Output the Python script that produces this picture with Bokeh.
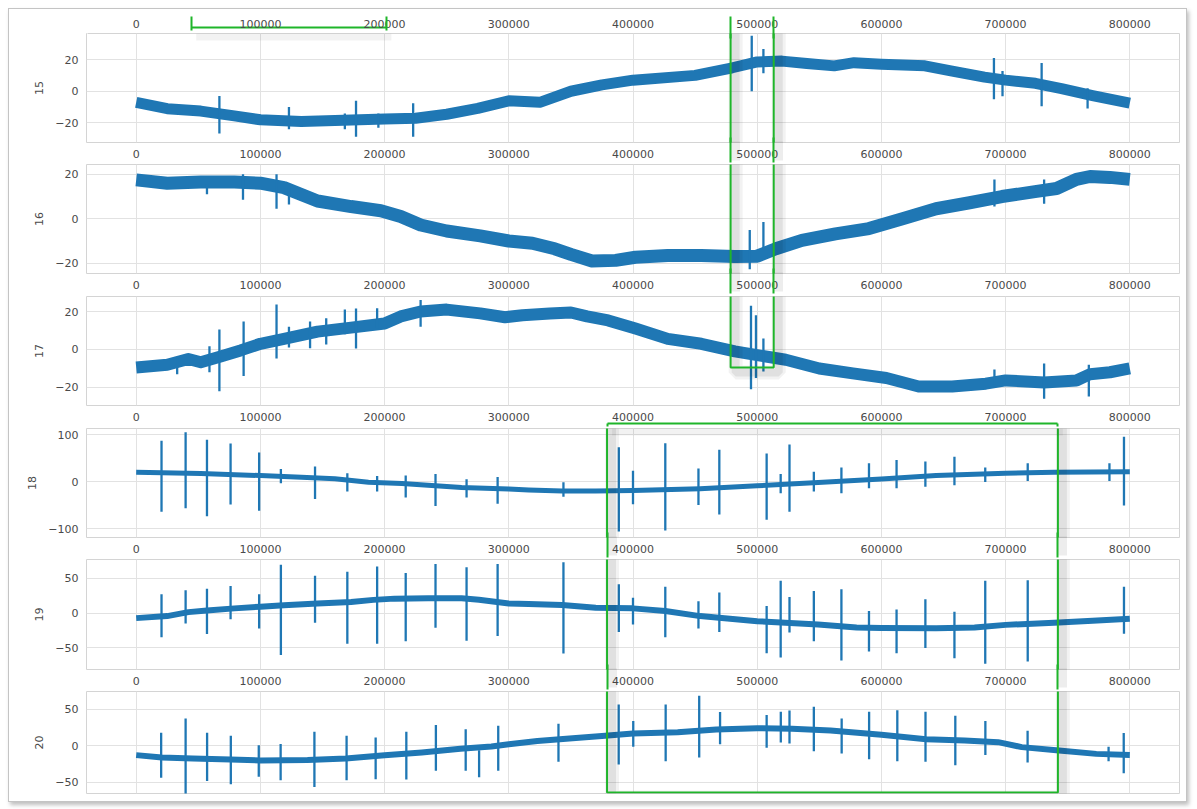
from bokeh.plotting import figure
from bokeh.models import FixedTicker, Range1d, BoxAnnotation, LinearAxis
from bokeh.layouts import column
from bokeh.embed import file_html
from bokeh.resources import INLINE

# ---------------- data ----------------
x_ticks = [0, 100000, 200000, 300000, 400000, 500000, 600000, 700000, 800000]
x_tick_labels = ["0", "100000", "200000", "300000", "400000", "500000", "600000", "700000", "800000"]

channel_names = ["15", "16", "17", "18", "19", "20"]

# channel 15
x15 = [0, 25000, 52000, 79000, 100000, 133000, 160000, 200000, 225000, 250000, 275000, 300000,
       325000, 350000, 375000, 400000, 450000, 480000, 500000, 520000, 540000, 562000, 578000,
       600000, 635000, 657000, 683000, 700000, 724000, 745000, 770000, 800000]
y15 = [-7, -11, -12.5, -15.5, -18, -19, -18.5, -17.5, -17, -14.5, -10.8, -6, -7, 0, 4, 7, 10,
       14.8, 18.5, 19, 17.5, 16, 18, 17, 16, 12.7, 8.9, 7, 5, 1.7, -2.7, -7.5]
sp15_x = [67000, 123000, 168000, 177000, 195000, 223000, 495600, 505000, 690600, 697500, 729000, 766000]
sp15_top = [-3, -10, -14, -6, -14, -7.5, 35, 26.7, 21, 12.7, 17.8, 1.9]
sp15_bot = [-26.6, -24, -24, -28.6, -23, -28.6, 0, 11.4, -5, -3.2, -9.5, -10.8]

# channel 16
x16 = [0, 25000, 52000, 79000, 100000, 119000, 146000, 173000, 197000, 213000, 229000, 250000,
       277000, 300000, 319000, 337000, 350000, 367000, 386000, 402000, 428000, 455000, 482000,
       500000, 515000, 536000, 563000, 590000, 617000, 644000, 671000, 697000, 725000, 741000,
       757000, 768000, 784000, 800000]
y16 = [17.5, 16, 16.5, 16.5, 16, 14, 8, 5.5, 3.6, 1, -2.8, -5.5, -7.7, -10, -11, -13.5, -16, -19,
       -18.7, -17.3, -16.5, -16.5, -17, -16.8, -13.5, -9.7, -6.8, -4.4, 0, 4.5, 7.2, 10, 12.3,
       13.6, 17.7, 19, 18.6, 17.7]
sp16_x = [57000, 86000, 113000, 123000, 494000, 505000, 691000, 731000]
sp16_top = [15.5, 20, 20, 13.8, -5, -1.4, 17.7, 17.7]
sp16_bot = [11, 8.6, 4.5, 6.4, -22.7, -13.6, 5.5, 6.8]

# channel 17
x17 = [0, 25000, 42000, 52000, 68000, 84000, 100000, 119000, 146000, 173000, 200000, 213000,
       229000, 250000, 277000, 297000, 311000, 333000, 350000, 363000, 380000, 402000, 428000,
       455000, 482000, 500000, 523000, 550000, 577000, 604000, 630000, 657000, 684000, 700000,
       731000, 757000, 768000, 784000, 800000]
y17 = [-9.5, -8, -5, -6.7, -3.7, -0.5, 3, 5.6, 9.4, 11.5, 13.7, 17.4, 20, 21, 19, 17, 18, 19,
       19.5, 17.4, 15.3, 11, 5.6, 3, -1, -3, -5.4, -10, -12.6, -15, -19.5, -19.5, -18, -16.3,
       -17.4, -16.3, -13, -12, -10]
sp17_x = [33000, 59000, 67000, 86500, 113000, 123000, 140000, 153000, 168000, 177000, 194000,
          229000, 495000, 499000, 505000, 691000, 731000, 767000]
sp17_top = [-4.6, 1.7, 10.5, 14.7, 23.7, 12, 14.7, 16.5, 21, 21.6, 21.7, 26, 23, 18, 5.8,
            -10.5, -7.4, -8]
sp17_bot = [-13, -12, -22, -14, -4.7, 1, 0.7, 2.6, 8, 0.5, 11.2, 12, -21, -15, -11.6,
            -18.4, -26, -24.7]

# channel 18
x18 = [0, 52000, 100000, 133000, 160000, 187000, 214000, 235000, 262000, 300000, 316000,
       343000, 370000, 400000, 454000, 500000, 549000, 600000, 644000, 700000, 739000, 800000]
y18 = [20, 17, 12.8, 9, 6, -1.5, -4, -7.8, -12.8, -16, -18, -19.8, -20, -19, -15, -9, -2,
       5.6, 12.8, 17.7, 20, 21]
sp18_x = [20400, 39800, 57000, 76000, 99000, 116500, 144000, 170000, 194000, 217000, 241000,
          266000, 291000, 344000, 388600, 400000, 426000, 452700, 469500, 507600, 518900,
          526000, 545600, 567800, 590000, 612200, 635400, 658800, 683600, 717800, 783600, 795300]
sp18_top = [87, 105, 89, 81, 62, 27, 32, 18, 12, 12.8, 16, 5, 10, -1.4, 73, 23, 81.6, 28, 68,
            60, 16, 79, 21, 30, 39, 46, 43, 53, 30, 39, 39, 95.7]
sp18_bot = [-64, -57, -74, -49, -62, -3.5, -37, -21, -21, -34, -52, -34, -47, -32, -106, -48,
            -104, -50, -70, -81, -25, -64, -21, -25, -14, -14, -11, -8, -1, 1.4, 1.4, -51]

# channel 19
x19 = [0, 25000, 42000, 57000, 79000, 100000, 119000, 146000, 173000, 191000, 208000, 235000,
       262000, 276000, 300000, 316000, 343000, 370000, 400000, 426000, 454000, 500000, 549000,
       580000, 600000, 644000, 675000, 700000, 739000, 770000, 800000]
y19 = [-7.2, -4.3, 1.4, 3.9, 6.8, 9.3, 11.3, 13.7, 16, 19, 20.8, 21.3, 21.3, 19.2, 13.9, 13,
       11.6, 7.7, 6.8, 3, -4.3, -11.6, -16.4, -20.8, -21.3, -21.7, -20.8, -16.9, -14, -11, -8.2]
sp19_x = [20400, 39800, 57000, 76000, 99000, 116500, 144000, 170000, 194000, 217000, 241000,
          266000, 291000, 344000, 388600, 400000, 426000, 452700, 469500, 507600, 518900,
          526000, 545600, 567800, 590000, 612200, 635400, 658800, 683600, 717800, 795300]
sp19_top = [27, 32.8, 35, 39, 27, 69.6, 53.6, 59.4, 67, 57.5, 70.5, 65.7, 70.5, 73, 41.5, 22,
            38, 17, 29.5, 10.1, 46.4, 23.2, 31.9, 34.3, 3, 5.3, 19.8, 2, 46.4, 47.3, 37.7]
sp19_bot = [-34.8, -15, -30, -9, -22, -60, -14, -44, -44, -40.6, -21.2, -39.6, -33, -58, -27,
            -16.4, -34.8, -22, -27, -57.5, -63.8, -28, -40.6, -68, -55, -57.5, -50.2, -64.7,
            -72.9, -69.6, -29.5]

# channel 20
x20 = [0, 20700, 45600, 76000, 100000, 138000, 168800, 200000, 230000, 261000, 286000, 300000,
       323000, 354000, 375000, 400000, 436000, 467000, 500000, 528000, 559000, 600000, 636000,
       667000, 694000, 713000, 743000, 773000, 800000]
y20 = [-12.7, -16, -17.3, -18.6, -20, -19.5, -17.3, -13, -9, -4, -1, 2, 6.5, 10.5, 13.5, 16.8,
       18.6, 22.3, 24, 23.2, 20.9, 15, 9, 7.3, 5, -1.8, -6.4, -11, -12.4]
sp20_x = [20100, 39800, 57100, 76200, 98700, 116300, 143500, 169400, 192800, 217500, 241300,
          265300, 276100, 291500, 340000, 388500, 400200, 426300, 453300, 470100, 507600,
          519000, 526000, 545600, 568000, 590100, 612800, 635500, 659500, 683700, 717700,
          782900, 795100]
sp20_top = [17.7, 37.3, 17.7, 13.6, 0.9, 2.3, 19.1, 13.6, 11.4, 19.1, 28.2, 22.7, -6, 27.3,
            30, 56.4, 33.8, 56.4, 68.2, 46, 42, 46.4, 48, 53.2, 37.3, 46.4, 48.6, 46.4, 40.9,
            33.8, 20.5, -1.4, 17.3]
sp20_bot = [-43.7, -66, -48, -52.4, -42.3, -47, -56, -47, -45.5, -46, -34, -34, -43, -34,
            -21.8, -25.5, -1.4, -21, -16, 2, -2.7, 4.4, 3, -7.3, -10.5, -18.2, -21, -21.8,
            -26.4, -12.7, -22.7, -21, -37.3]

y_ticks_15_17 = [-20, 0, 20]
y_ticks_18 = [-100, 0, 100]
y_ticks_19_20 = [-50, 0, 50]

# ---------------- style / layout ----------------
BLUE = "#1f77b4"
GREEN = "#1fb52a"
GRID = "#e2e2e2"
SPINE = "#d4d4d4"
TXT = "#4a4a4a"
FONT = "DejaVu Sans"
FIG_W = 1177
BL, BR = 77, 7
X_RANGE = (-40000, 840000)
X_UPP = (X_RANGE[1] - X_RANGE[0]) / (FIG_W - BL - BR)
SH_DX = 5 * X_UPP   # shadow offset (5 px) in data units


def fmt(v):
    return str(v).replace("-", "\u2212")


def style_xaxis(ax):
    ax.ticker = FixedTicker(ticks=x_ticks)
    ax.major_label_overrides = {t: l for t, l in zip(x_ticks, x_tick_labels)}
    ax.major_label_text_font = FONT
    ax.major_label_text_font_size = "11px"
    ax.major_label_text_color = TXT
    ax.major_tick_line_color = None
    ax.minor_tick_line_color = None
    ax.axis_line_color = None
    ax.major_tick_out = 0
    ax.major_tick_in = 0


def make_panel(name, xs, ys, sx, stop, sbot, yticks, yr, height, top_b, bottom_b, band_w,
               below=True):
    p = figure(width=FIG_W, height=height, output_backend="svg", toolbar_location=None,
               x_range=Range1d(*X_RANGE), y_range=Range1d(*yr),
               min_border_left=BL, min_border_right=BR,
               min_border_top=top_b, min_border_bottom=bottom_b,
               x_axis_location="below" if below else None)
    p.background_fill_color = "white"
    p.border_fill_color = "white"
    p.outline_line_color = SPINE
    p.outline_line_width = 1

    if below:
        style_xaxis(p.xaxis[0])
        p.xaxis[0].major_label_standoff = 7
    p.xgrid.ticker = FixedTicker(ticks=x_ticks)
    p.xgrid.grid_line_color = GRID
    p.ygrid.grid_line_color = GRID

    yax = p.yaxis[0]
    yax.ticker = FixedTicker(ticks=yticks)
    yax.major_label_overrides = {t: fmt(t) for t in yticks}
    yax.major_label_text_font = FONT
    yax.major_label_text_font_size = "11px"
    yax.major_label_text_color = TXT
    yax.major_tick_line_color = None
    yax.minor_tick_line_color = None
    yax.axis_line_color = None
    yax.major_tick_out = 0
    yax.major_tick_in = 0
    yax.major_label_standoff = 8
    yax.axis_label = name
    yax.axis_label_text_font = FONT
    yax.axis_label_text_font_size = "11px"
    yax.axis_label_text_font_style = "normal"
    yax.axis_label_text_color = TXT
    yax.axis_label_standoff = 9

    p.line(xs, ys, line_width=band_w, color=BLUE, line_join="round", line_cap="butt")
    p.segment(x0=sx, y0=sbot, x1=sx, y1=stop, line_width=2.3, color=BLUE)

    fh = height - top_b - bottom_b
    upp = (yr[1] - yr[0]) / fh
    return p, upp


specs = [
    (channel_names[0], x15, y15, sp15_x, sp15_top, sp15_bot, y_ticks_15_17, (-32.3, 36.4), 155, 24, 22, 11, True),
    (channel_names[1], x16, y16, sp16_x, sp16_top, sp16_bot, y_ticks_15_17, (-24.6, 24.4), 132, 0, 23, 13, True),
    (channel_names[2], x17, y17, sp17_x, sp17_top, sp17_bot, y_ticks_15_17, (-29.5, 27.9), 132, 0, 23, 12, True),
    (channel_names[3], x18, y18, sp18_x, sp18_top, sp18_bot, y_ticks_18, (-119, 113), 131, 0, 22, 5, True),
    (channel_names[4], x19, y19, sp19_x, sp19_top, sp19_bot, y_ticks_19_20, (-81, 77), 132, 0, 22, 6, True),
    (channel_names[5], x20, y20, sp20_x, sp20_top, sp20_bot, y_ticks_19_20, (-65, 74), 110, 0, 8, 6, False),
]

figs = []
for s in specs:
    p, upp = make_panel(*s)
    figs.append((p, upp, s[7]))


def add_box(p, upp, yr, left, right, top_px, bottom_px):
    """In-frame part of a highlight box; top_px / bottom_px are px below the frame top (None = beyond)."""
    y1 = yr[1]
    top = y1 + 2000 * upp if top_px is None else y1 - top_px * upp
    bot = yr[0] - 2000 * upp if bottom_px is None else y1 - bottom_px * upp
    dy = 5 * upp
    for w, a in ((14, 0.05), (8, 0.07)):
        p.add_layout(BoxAnnotation(left=left + SH_DX, right=right + SH_DX, top=top - dy, bottom=bot - dy,
                                   fill_color=None, fill_alpha=0, line_color="black",
                                   line_alpha=a, line_width=w, level="overlay"))
    p.add_layout(BoxAnnotation(left=left, right=right, top=top, bottom=bot,
                               fill_color=None, fill_alpha=0, line_color=GREEN,
                               line_alpha=1.0, line_width=2, level="overlay"))


def side_axis(p, side, ticks, tick_in=0, tick_out=0, bounds=None, color=GREEN, alpha=1.0,
              width=2, labels=None, standoff=0):
    """Extra stacked axis used either for the top tick-label row or for box edges outside the frame."""
    ax = LinearAxis()
    ax.ticker = FixedTicker(ticks=list(ticks))
    if labels is None:
        ax.major_label_overrides = {t: "" for t in ticks}
        ax.major_label_text_font_size = "0px"
    else:
        ax.major_label_overrides = {t: l for t, l in zip(ticks, labels)}
        ax.major_label_text_font = FONT
        ax.major_label_text_font_size = "11px"
        ax.major_label_text_color = TXT
    ax.major_label_standoff = standoff
    ax.major_tick_out = tick_out
    ax.major_tick_in = tick_in
    ax.major_tick_line_color = color
    ax.major_tick_line_alpha = alpha
    ax.major_tick_line_width = width
    ax.minor_tick_line_color = None
    if bounds is not None:
        ax.bounds = bounds
        ax.axis_line_color = color
        ax.axis_line_alpha = alpha
        ax.axis_line_width = width
    else:
        ax.axis_line_color = None
    p.add_layout(ax, side)
    return ax


def gap_edges(p, xs):
    side_axis(p, "below", [x + SH_DX for x in xs], tick_in=19, color="black", alpha=0.07, width=9)
    side_axis(p, "below", list(xs), tick_in=23, tick_out=2)


def top_shadow(p, upp, yr, xs):
    p.add_layout(BoxAnnotation(left=xs[0] + SH_DX, right=xs[1] + SH_DX, top=yr[1], bottom=yr[1] - 7 * upp,
                               fill_color="black", fill_alpha=0.05, line_color=None, level="overlay"))


(p15, u15, r15), (p16, u16, r16), (p17, u17, r17), (p18, u18, r18), (p19, u19, r19), (p20, u20, r20) = figs

BOX1 = (44300, 201500)
BOX2 = (478600, 513300)
BOX3 = (379100, 742100)

# ---- above the first panel (from the frame outwards) ----
side_axis(p15, "above", [-39000], tick_out=6, color="white", width=1)          # 6 px spacer
side_axis(p15, "above", [], bounds=BOX1)                                        # box 1 bottom edge
side_axis(p15, "above", x_ticks, labels=x_tick_labels, color=None)              # tick-label row
side_axis(p15, "above", list(BOX1), tick_in=14)                                 # box 1 sides
side_axis(p15, "above", list(BOX2), tick_in=22)                                 # box 2 sides
top_shadow(p15, u15, r15, BOX1)

# ---- box 2 (panels 15-17) ----
add_box(p15, u15, r15, BOX2[0], BOX2[1], None, None)
gap_edges(p15, BOX2)
add_box(p16, u16, r16, BOX2[0], BOX2[1], None, None)
gap_edges(p16, BOX2)
add_box(p17, u17, r17, BOX2[0], BOX2[1], None, 71)

# ---- box 3 (panels 17-20): top edge lies in the gap under panel 17 ----
side_axis(p17, "below", list(BOX3), tick_out=3, bounds=BOX3)
add_box(p18, u18, r18, BOX3[0], BOX3[1], None, None)
top_shadow(p18, u18, r18, BOX3)
gap_edges(p18, BOX3)
add_box(p19, u19, r19, BOX3[0], BOX3[1], None, None)
gap_edges(p19, BOX3)
add_box(p20, u20, r20, BOX3[0], BOX3[1], None, 101)

layout = column([f[0] for f in figs], spacing=0,
                styles={"border": "1px solid #c4c4c4", "box-shadow": "2px 3px 4px rgba(0,0,0,0.25)",
                        "background-color": "white", "margin-left": "8px", "margin-top": "8px"})

open("out.html", "w").write(file_html(layout, INLINE))
